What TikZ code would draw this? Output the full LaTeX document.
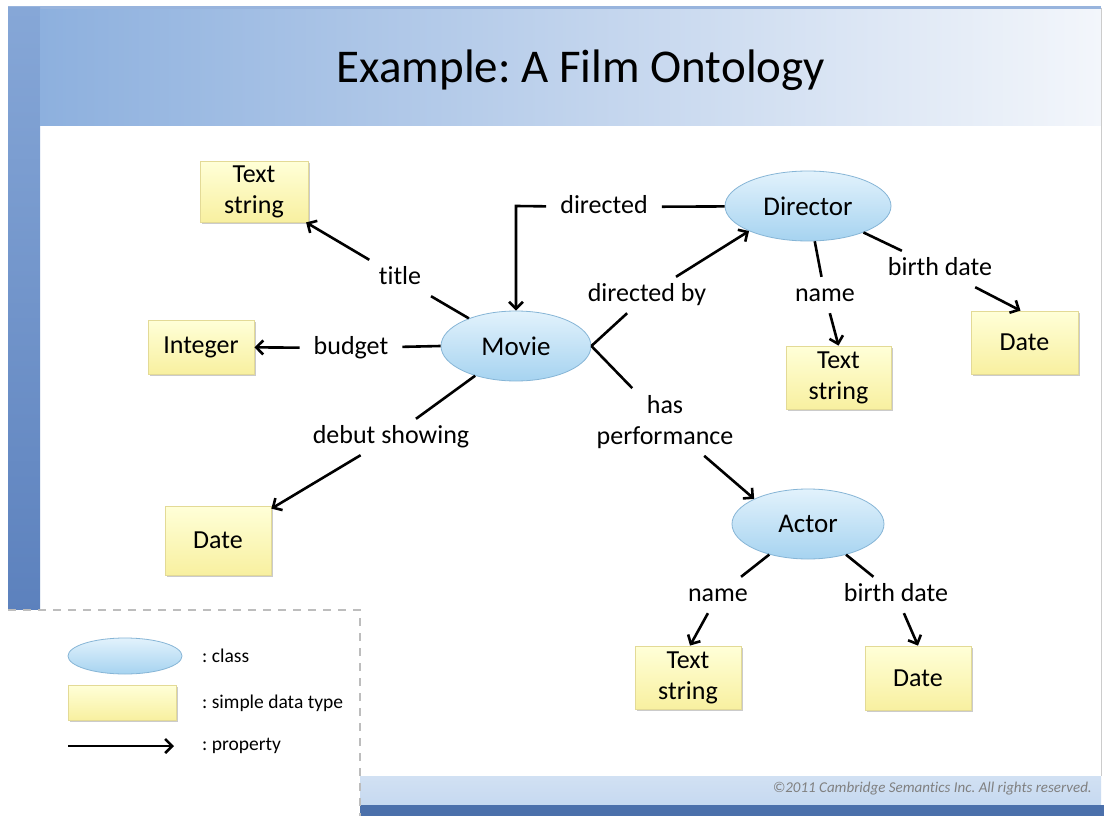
\documentclass[tikz,border=0pt]{standalone}
\usepackage{fontspec}
\setmainfont[Ligatures=NoCommon]{Carlito}
\usetikzlibrary{shapes.geometric,arrows.meta,shadows}

\definecolor{bandL}{HTML}{8DB0DE}
\definecolor{bandR}{HTML}{F3F6FB}
\definecolor{stripT}{HTML}{86A7D7}
\definecolor{stripB}{HTML}{5C81BD}
\definecolor{barLight}{HTML}{C6D9F0}
\definecolor{barDark}{HTML}{4B70AB}
\definecolor{classTop}{HTML}{E2F2FC}
\definecolor{classBot}{HTML}{A6D3F0}
\definecolor{classLine}{HTML}{86B5D6}
\definecolor{typeTop}{HTML}{FFFFD8}
\definecolor{typeBot}{HTML}{F8F0A0}
\definecolor{typeLine}{HTML}{E3DA96}
\definecolor{dashGray}{HTML}{BDBDBD}

\tikzset{
  classnode/.style={ellipse, draw=classLine, line width=0.8pt,
    top color=classTop, bottom color=classBot, inner sep=0pt,
    font=\fontsize{27}{31}\selectfont},
  typenode/.style={rectangle, draw=typeLine, line width=0.8pt,
    top color=typeTop, bottom color=typeBot, inner sep=0pt, align=center,
    font=\fontsize{26}{31}\selectfont,
    drop shadow={shadow xshift=1.5pt, shadow yshift=-2pt, fill=black!45, opacity=0.45}},
  proplabel/.style={fill=white, inner xsep=14pt, inner ysep=7pt,
    text height=17pt, text depth=5pt, font=\fontsize{26}{31}\selectfont},
  proplabeltwo/.style={fill=white, inner xsep=14pt, inner ysep=7pt, align=center,
    font=\fontsize{26}{31}\selectfont},
  prop/.style={line width=2.6pt, -{Straight Barb[length=7pt,width=14pt]}},
  legendtext/.style={anchor=west, inner sep=0pt, font=\fontsize{19.5}{23}\selectfont}
}

\begin{document}
\frenchspacing
\begin{tikzpicture}[x=1pt,y=-1pt]
\useasboundingbox (0,0) rectangle (1104,816);

% slide frame
\fill[white] (0,0) rectangle (1104,816);
\fill[color=stripT!85] (8,6) rectangle (1101,10);
\shade[top color=stripT, bottom color=stripB] (8,8) rectangle (40,612);
\shade[left color=bandL, right color=bandR] (40,10) rectangle (1101,125);
\draw[color=black!20, line width=0.8pt] (1101,8) -- (1101,776);
\shade[top color=barLight!80, bottom color=barLight] (360,776) rectangle (1101,805);
\fill[barDark] (360,805) rectangle (1104,816);

% title
\node (title) at (581,70) {\fontsize{47}{56}\selectfont Example: A Film Ontology};

% classes
\node[classnode, minimum width=150pt, minimum height=70pt] (movie) at (516,346) {Movie};
\node[classnode, minimum width=166pt, minimum height=70pt] (director) at (808,206) {Director};
\node[classnode, minimum width=152pt, minimum height=70pt] (actor) at (808,524) {Actor};

% simple data types
\node[typenode, minimum width=108pt, minimum height=61pt] (tsTitle) at (254,191.5) {Text\\string};
\node[typenode, minimum width=106pt, minimum height=54pt] (integer) at (201,347) {Integer};
\node[typenode, minimum width=106pt, minimum height=69pt] (dateDebut) at (218,540.5) {Date};
\node[typenode, minimum width=105pt, minimum height=63pt] (tsDir) at (838.5,377.5) {Text\\string};
\node[typenode, minimum width=107pt, minimum height=63pt] (dateDir) at (1024.5,342.5) {Date};
\node[typenode, minimum width=106pt, minimum height=63pt] (tsActor) at (688,677.5) {Text\\string};
\node[typenode, minimum width=106pt, minimum height=64pt] (dateActor) at (918,678) {Date};

% property labels
\node[proplabel] (lTitle) at (400,278) {title};
\node[proplabel] (lBudget) at (351,348) {budget};
\node[proplabel] (lDebut) at (391,437) {debut showing};
\node[proplabel] (lDirected) at (604,207) {directed};
\node[proplabel] (lDirBy) at (647,295) {directed by};
\node[proplabeltwo] (lPerf) at (665,422) {has\\performance};
\node[proplabel] (lDirName) at (825,295) {name};
\node[proplabel] (lDirBirth) at (940,269) {birth date};
\node[proplabel] (lActName) at (718,595) {name};
\node[proplabel] (lActBirth) at (896,595) {birth date};

\coordinate (bend) at (516,206);

% properties
\draw[prop] (movie) -- (lTitle) -- (tsTitle);
\draw[prop] (movie.west) -- (lBudget) -- (integer);
\draw[prop] (movie) -- (lDebut) -- (dateDebut);
\draw[prop] (director) -- (lDirected) -- (bend) -- (movie);
\draw[prop] (movie.east) -- (lDirBy) -- (director.203);
\draw[prop] (movie.east) -- (lPerf) -- (actor.155);
\draw[prop] (director) -- (lDirName) -- (tsDir.north);
\draw[prop] (director) -- (lDirBirth) -- ([xshift=-4pt]dateDir.north);
\draw[prop] (actor) -- (lActName) -- ([xshift=2pt]tsActor.north);
\draw[prop] (actor) -- (lActBirth) -- (dateActor.north);

% legend
\fill[white] (0,610) rectangle (360,816);
\draw[dashGray, line width=1.6pt, dash pattern=on 8pt off 7pt] (8,610) -- (360,610) -- (360,816);
\node[classnode, minimum width=114pt, minimum height=36pt] (legClass) at (125,656) {};
\node[typenode, minimum width=108pt, minimum height=35pt] (legType) at (122,702.5) {};
\coordinate (legA) at (68,746);
\coordinate (legB) at (174,746);
\draw[prop] (legA) -- (legB);
\node[legendtext] (legClassText) at (202,656) {: class};
\node[legendtext] (legTypeText) at (202,703) {: simple data type};
\node[legendtext] (legPropText) at (202,746) {: property};

% footer
\node[anchor=east, inner sep=0pt, text=black!50, font=\fontsize{15}{18}\selectfont\itshape] (copy) at (1092,789) {©2011 Cambridge Semantics Inc. All rights reserved.};
\end{tikzpicture}
\end{document}
